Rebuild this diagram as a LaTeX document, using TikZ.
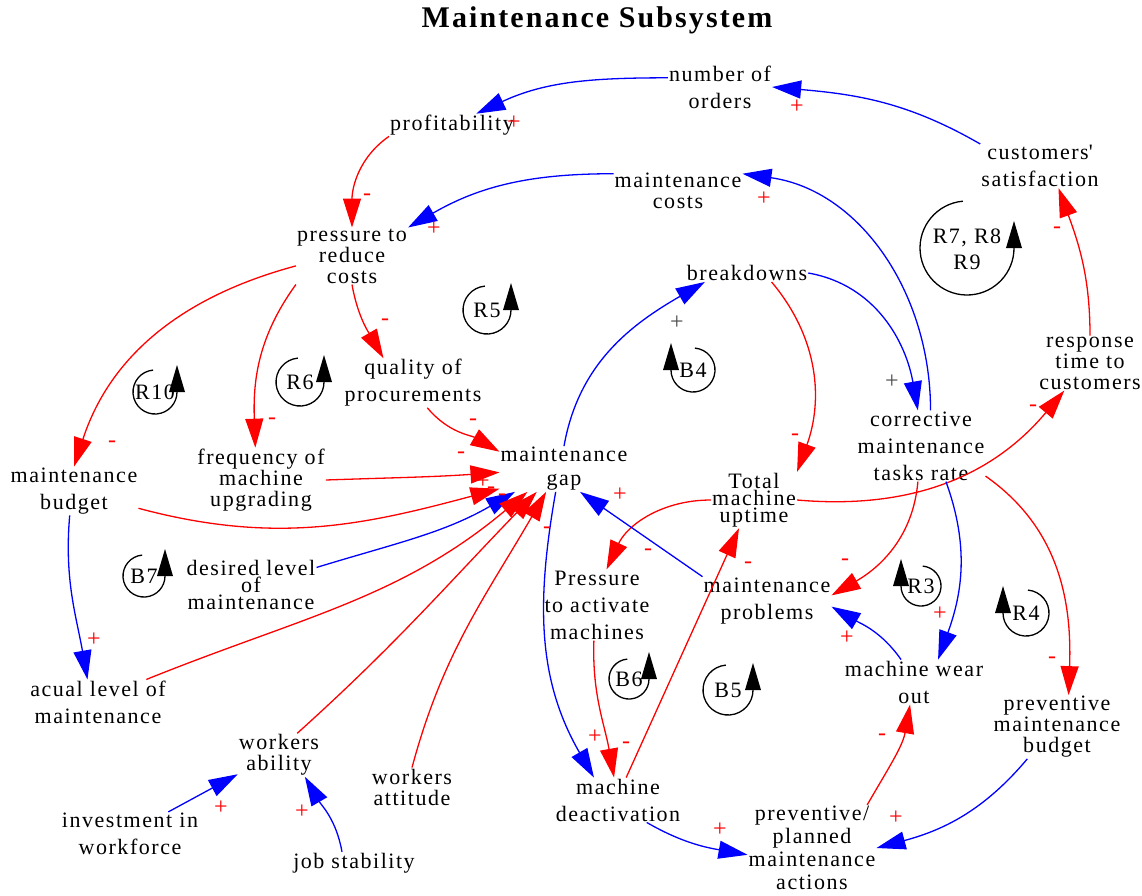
\documentclass[tikz,border=0pt]{standalone}
\usepackage{fontspec}
\setmainfont{Liberation Serif}[LetterSpace=7]
\usetikzlibrary{arrows.meta}
\begin{document}
\begin{tikzpicture}[x=1pt,y=1pt,
	    var/.style={align=center,inner sep=1pt,font=\fontsize{22}{27}\selectfont},
	    tight/.style={font=\fontsize{22}{21}\selectfont},
	    tighter/.style={font=\fontsize{22}{17}\selectfont},
	    bluelink/.style={draw=blue,line width=1.3pt,-{Triangle[length=29pt,width=18pt]}},
	    redlink/.style={draw=red,line width=1.3pt,-{Triangle[length=29pt,width=18pt]}},
	    pol/.style={text=red,inner sep=0pt,font=\fontsize{24}{24}\selectfont},
	    polk/.style={pol,text=black!70},
	    loopline/.style={line width=1.3pt},
	    looplabel/.style={align=center,inner sep=0pt,font=\fontsize{22}{26}\selectfont}]
	    \useasboundingbox (0,0) rectangle (1142,-895);
	    \node[font=\fontsize{30}{32}\selectfont\bfseries] (title) at (597,-20) {Maintenance Subsystem};
	    \node[var] (orders) at (720,-87) {number of\\orders};
	    \node[var] (profit) at (452,-125) {profitability};
	    \node[var] (satisf) at (1040,-166) {customers\textquotesingle\\satisfaction};
	    \node[var,tight] (mcosts) at (678,-191) {maintenance\\costs};
	    \node[var,tight] (pressure) at (352,-256) {pressure to\\reduce\\costs};
	    \node[var] (breakdowns) at (747,-273) {breakdowns};
	    \node[var] (quality) at (413,-383) {quality of\\procurements};
	    \node[var,tight] (response) at (1090,-363) {response\\time to\\customers};
	    \node[var] (corrective) at (921,-446) {corrective\\maintenance\\tasks rate};
	    \node[var] (mbudget) at (74,-491) {maintenance\\budget};
	    \node[var,tight] (upgrading) at (261,-480) {frequency of\\machine\\upgrading};
	    \node[var,font=\fontsize{22}{24}\selectfont] (gap) at (564,-469) {maintenance\\gap};
	    \node[var,tighter] (uptime) at (754,-500) {Total\\machine\\uptime};
	    \node[var,tighter] (desired) at (251,-585) {desired level\\of\\maintenance};
	    \node[var] (activate) at (597,-605) {Pressure\\to activate\\machines};
	    \node[var] (problems) at (767,-601) {maintenance\\problems};
	    \node[var] (wearout) at (914,-682) {machine wear\\out};
	    \node[var] (actual) at (98,-702) {acual level of\\maintenance};
	    \node[var,tight] (pmbudget) at (1057,-727) {preventive\\maintenance\\budget};
	    \node[var,tight] (ability) at (279,-755) {workers\\ability};
	    \node[var,tight] (attitude) at (412,-787) {workers\\attitude};
	    \node[var] (deactivation) at (618,-800) {machine\\deactivation};
	    \node[var] (investment) at (130,-834) {investment in\\workforce};
	    \node[var] (stability) at (354,-863) {job stability};
	    \node[var,font=\fontsize{22}{23}\selectfont] (pmactions) at (812,-848) {preventive/\\planned\\maintenance\\actions};
	    \draw[bluelink] (satisf.north west) to[out=150,in=-5] (orders.east);
	    \draw[bluelink] (orders.170) to[out=180,in=25] (profit.25);
	    \draw[redlink] (profit.south west) to[out=215,in=90] (pressure.north);
	    \draw[bluelink] (mcosts.165) to[out=180,in=30] (pressure.north east);
	    \draw[bluelink] (corrective.75) to[out=90,in=-8] (mcosts.15);
	    \draw[redlink] (pressure.190) to[out=195,in=72] (mbudget.north);
	    \draw[redlink] (pressure.south west) to[out=234,in=92] (upgrading.100);
	    \draw[redlink] (pressure.south) to[out=-80,in=120] (quality.140);
	    \draw[redlink] (quality.-60) to[out=-50,in=150] (gap.165);
	    \draw[redlink] (upgrading.east) to[out=2,in=184] (gap.183);
	    \draw[redlink] (mbudget.-15) to[out=-15,in=195] (gap.197);
	    \draw[bluelink] (desired.15) to[out=17,in=210] (gap.-155);
	    \draw[redlink] (actual.25) to[out=22,in=220] (gap.-148);
	    \draw[redlink] (ability.50) to[out=42,in=226] (gap.-140);
	    \draw[redlink] (attitude.north) to[out=75,in=240] (gap.-128);
	    \draw[bluelink] (mbudget.-100) to[out=-95,in=100] (actual.115);
	    \draw[bluelink] (investment.30) -- (ability.-155);
	    \draw[bluelink] (stability.137) to[out=100,in=-60] (ability.-40);
	    \draw[bluelink] (gap.north) to[out=80,in=210] (breakdowns.-168);
	    \draw[bluelink] (breakdowns.east) to[out=-10,in=100] (corrective.95);
	    \draw[redlink] (breakdowns.-20) to[out=-50,in=70] (uptime.north east);
	    \draw[bluelink] (gap.-110) to[out=-100,in=120] (deactivation.137);
	    \draw[redlink] (uptime.west) to[out=180,in=65] (activate.75);
	    \draw[bluelink] (problems.north west) -- (gap.-55);
	    \draw[redlink] (uptime.east) to[out=-5,in=-130] (response.-133);
	    \draw[redlink] (response.north) to[out=90,in=-70] (satisf.-50);
	    \draw[redlink] (corrective.-95) to[out=-95,in=30] (problems.5);
	    \draw[redlink] (deactivation.70) -- (uptime.-118);
	    \draw[redlink] (activate.-95) to[out=-92,in=100] (deactivation.100);
	    \draw[bluelink] (corrective.-55) to[out=-70,in=70] (wearout.43);
	    \draw[bluelink] (wearout.120) to[out=125,in=-30] (problems.-5);
	    \draw[redlink] (corrective.-25) to[out=-35,in=88] (pmbudget.70);
	    \draw[bluelink] (pmbudget.-133) to[out=-130,in=15] (pmactions.east);
	    \draw[bluelink] (deactivation.-38) to[out=-30,in=170] (pmactions.186);
	    \draw[redlink] (pmactions.38) to[out=60,in=-100] (wearout.-100);
	    \foreach \x/\y/\s [count=\i] in {797/-107/+, 514/-123/+, 367/-197/-, 434/-229/+, 764/-199/+,
	        112/-444/-, 272/-421/-, 385/-322/-, 473/-422/-, 461/-455/-, 483/-482/+, 491/-490/-, 502/-497/-,
	        94/-640/+, 221/-808/+, 302/-812/+, 795/-437/-, 547/-530/-, 648/-552/-, 620/-495/+,
	        1033/-408/-, 1057/-230/-, 845/-562/-, 626/-745/-, 748/-565/-, 595/-737/+, 940/-614/+,
	        847/-638/+, 1052/-660/-, 896/-818/+, 720/-830/+, 882/-737/-}
	        \node[pol] (pol\i) at (\x,\y) {\s};
	    \node[polk] (polk1) at (677,-323) {+};
	    \node[polk] (polk2) at (892,-382) {+};
	    \foreach \x/\y/\r/\n in {487/-310/24/R5, 300/-382/24/R6, 155/-392/22/R10, 144/-576/21/B7, 629/-679/20/B6, 728/-690/25/B5}{
	        \draw[loopline] (\x,\y) ++(95:\r) arc[start angle=95,end angle=360,radius=\r];
	        \fill (\x+\r-8,\y) -- ++(16,0) -- ++(-8,27) -- cycle;
	        \node[looplabel] (\n) at (\x,\y) {\n};
	    }
	    \foreach \x/\y/\r/\n in {693/-370/22/B4, 921/-586/20/R3, 1026/-613/23/R4}{
	        \draw[loopline] (\x,\y) ++(85:\r) arc[start angle=85,end angle=-180,radius=\r];
	        \fill (\x-\r-8,\y) -- ++(16,0) -- ++(-8,27) -- cycle;
	        \node[looplabel] (\n) at (\x,\y) {\n};
	    }
	    \draw[loopline] (967,-248) ++(95:47) arc[start angle=95,end angle=360,radius=47];
	    \fill (1006,-248) -- ++(16,0) -- ++(-8,27) -- cycle;
	    \node[looplabel] (R7) at (967,-249) {R7, R8\\R9};
\end{tikzpicture}
\end{document}
